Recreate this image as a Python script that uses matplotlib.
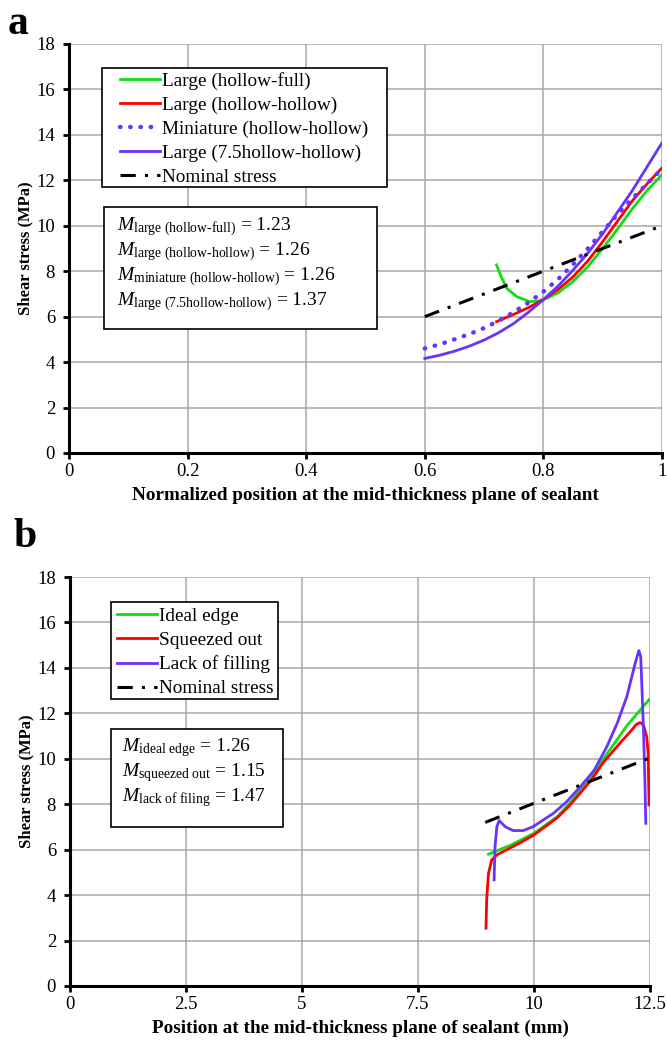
import numpy as np
import matplotlib.pyplot as plt
from matplotlib.patches import Rectangle

plt.rcParams['font.family'] = ['Liberation Serif', 'DejaVu Serif']
plt.rcParams['mathtext.fontset'] = 'custom'
plt.rcParams['mathtext.rm'] = 'Liberation Serif'
plt.rcParams['mathtext.it'] = 'Liberation Serif:italic'
plt.rcParams['mathtext.bf'] = 'Liberation Serif:bold'

GREEN = '#11dd11'
RED = '#ff0000'
PURPLE = '#6633ff'

# ---- panel a data (normalized position, MPa) ----
a_green_x = [0.721, 0.728, 0.738, 0.755, 0.777, 0.791, 0.80, 0.825, 0.85, 0.875, 0.90,
             0.925, 0.95, 0.975, 1.0]
a_green_y = [8.28, 7.8, 7.25, 6.88, 6.66, 6.69, 6.75, 7.05, 7.55, 8.2, 9.0,
             9.85, 10.75, 11.55, 12.25]

a_red_x = [0.721, 0.75, 0.775, 0.80, 0.825, 0.85, 0.875, 0.90, 0.925, 0.95, 0.975, 1.0]
a_red_y = [5.78, 6.1, 6.4, 6.75, 7.2, 7.75, 8.45, 9.3, 10.2, 11.1, 11.85, 12.55]

a_mini_x = [0.60, 0.625, 0.65, 0.675, 0.70, 0.725, 0.75, 0.775, 0.80, 0.825, 0.85,
            0.875, 0.90, 0.925, 0.95, 0.975, 1.0]
a_mini_y = [4.6, 4.78, 5.0, 5.23, 5.5, 5.82, 6.2, 6.62, 7.1, 7.65, 8.3,
            9.0, 9.75, 10.5, 11.2, 11.85, 12.5]

a_blue_x = [0.60, 0.625, 0.65, 0.675, 0.70, 0.725, 0.75, 0.775, 0.80, 0.825, 0.85,
            0.875, 0.90, 0.925, 0.95, 0.975, 1.0]
a_blue_y = [4.16, 4.3, 4.48, 4.7, 4.97, 5.3, 5.7, 6.2, 6.75, 7.35, 8.05,
            8.8, 9.65, 10.6, 11.55, 12.6, 13.65]

a_nom_x = [0.6, 1.0]
a_nom_y = [6.0, 10.0]

a_labels = ['Large (hollow-full)', 'Large (hollow-hollow)', 'Miniature (hollow-hollow)',
            'Large (7.5hollow-hollow)', 'Nominal stress']
a_mfactors = [('large (hollow-full)', '1.23'), ('large (hollow-hollow)', '1.26'),
              ('miniature (hollow-hollow)', '1.26'), ('large (7.5hollow-hollow)', '1.37')]

# ---- panel b data (mm, MPa) ----
b_green_x = [9.02, 9.5, 10.0, 10.5, 10.75, 11.0, 11.25, 11.5, 12.0, 12.25, 12.48]
b_green_y = [5.8, 6.2, 6.72, 7.45, 8.0, 8.6, 9.25, 10.0, 11.45, 12.05, 12.6]

b_red_x = [8.966, 8.98, 9.02, 9.09, 9.2, 9.41, 9.7, 10.0, 10.5, 10.75, 11.0, 11.25, 11.5,
           11.85, 12.1, 12.2, 12.28, 12.33, 12.37, 12.43, 12.46, 12.47, 12.48]
b_red_y = [2.54, 3.79, 4.96, 5.55, 5.77, 5.99, 6.3, 6.65, 7.4, 7.9, 8.5, 9.1, 9.85,
           10.68, 11.25, 11.5, 11.59, 11.55, 11.41, 10.97, 10.24, 9.07, 7.97]

b_blue_x = [9.14, 9.16, 9.2, 9.25, 9.38, 9.55, 9.77, 9.98, 10.42, 10.7, 11.0, 11.3, 11.57,
            11.8, 12.0, 12.18, 12.26, 12.3, 12.32, 12.36, 12.39, 12.41]
b_blue_y = [4.67, 6.13, 7.01, 7.28, 7.01, 6.84, 6.84, 7.01, 7.6, 8.1, 8.77, 9.5, 10.53,
            11.6, 12.73, 14.2, 14.76, 14.5, 13.47, 11.27, 9.07, 7.16]

b_nom_x = [8.95, 12.45]
b_nom_y = [7.2, 10.0]

b_labels = ['Ideal edge', 'Squeezed out', 'Lack of filling', 'Nominal stress']
b_mfactors = [('ideal edge', '1.26'), ('squeezed out', '1.15'), ('lack of filing', '1.47')]

NOM_STYLE = (0, (5, 3, 1, 3))
MINI_STYLE = (0, (0.1, 2.2))


def style_axes(ax, xmax, xticks, xticklabels, xlabel):
    ax.set_xlim(0, xmax)
    ax.set_ylim(0, 18)
    ax.set_xticks(xticks)
    ax.set_xticklabels(xticklabels)
    ax.set_yticks(np.arange(0, 19, 2))
    ax.grid(True, color='#a8a8a8', lw=1.1)
    ax.set_axisbelow(True)
    for s in ['top', 'right']:
        ax.spines[s].set_visible(False)
    for s in ['left', 'bottom']:
        ax.spines[s].set_linewidth(2.2)
        ax.spines[s].set_color('black')
    ax.tick_params(direction='out', length=4, width=2, labelsize=13.5)
    ax.tick_params(axis='x', pad=3)
    ax.tick_params(axis='y', pad=6)
    ax.set_ylabel('Shear stress (MPa)', fontsize=12, fontweight='bold', labelpad=2)
    ax.set_xlabel(xlabel, fontsize=13.8, fontweight='bold', labelpad=5)


def boxed_legend(ax, anchor, rect):
    leg = ax.legend(loc='upper left', bbox_to_anchor=anchor, fontsize=13.9, frameon=False,
                    borderpad=0, handlelength=2.05, handletextpad=0.15, labelspacing=0.34,
                    borderaxespad=0)
    x0, y0, x1, y1 = rect
    ax.add_patch(Rectangle((x0, y0), x1 - x0, y1 - y0, transform=ax.transAxes,
                           fc='white', ec='black', lw=1.2, zorder=4))
    leg.set_zorder(5)


def m_box(ax, rect, x, ytop, step, items):
    x0, y0, x1, y1 = rect
    ax.add_patch(Rectangle((x0, y0), x1 - x0, y1 - y0, transform=ax.transAxes,
                           fc='white', ec='black', lw=1.2, zorder=4))
    for i, (k, v) in enumerate(items):
        ax.text(x, ytop - i * step, r'$M_{\text{%s}}$ = %s' % (k, v), transform=ax.transAxes,
                fontsize=14, va='center', ha='left', zorder=5)


fig = plt.figure(figsize=(6.67, 10.44), dpi=100)
ax1 = fig.add_axes([0.1034, 0.5661, 0.8891, 0.3918])
ax2 = fig.add_axes([0.1049, 0.0556, 0.8696, 0.3917])

# panel a
ax1.plot(a_green_x, a_green_y, color=GREEN, lw=2, label=a_labels[0])
ax1.plot(a_red_x, a_red_y, color=RED, lw=2, label=a_labels[1])
ax1.plot(a_mini_x, a_mini_y, color=PURPLE, lw=3.2, ls=MINI_STYLE, dash_capstyle='round',
         label=a_labels[2])
ax1.plot(a_blue_x, a_blue_y, color=PURPLE, lw=2, label=a_labels[3])
ax1.plot(a_nom_x, a_nom_y, color='black', lw=2.2, ls=NOM_STYLE, label=a_labels[4])
style_axes(ax1, 1, [0, 0.2, 0.4, 0.6, 0.8, 1.0], ['0', '0.2', '0.4', '0.6', '0.8', '1'],
           'Normalized position at the mid-thickness plane of sealant')
boxed_legend(ax1, (0.086, 0.932), (0.0556, 0.650, 0.536, 0.941))
m_box(ax1, (0.059, 0.303, 0.519, 0.601), 0.081, 0.554, 0.061, a_mfactors)

# panel b
ax2.plot(b_green_x, b_green_y, color=GREEN, lw=2, label=b_labels[0])
ax2.plot(b_red_x, b_red_y, color=RED, lw=2, label=b_labels[1])
ax2.plot(b_blue_x, b_blue_y, color=PURPLE, lw=2, label=b_labels[2])
ax2.plot(b_nom_x, b_nom_y, color='black', lw=2.2, ls=NOM_STYLE, label=b_labels[3])
style_axes(ax2, 12.5, [0, 2.5, 5, 7.5, 10, 12.5], ['0', '2.5', '5', '7.5', '10', '12.5'],
           'Position at the mid-thickness plane of sealant (mm)')
boxed_legend(ax2, (0.081, 0.926), (0.0707, 0.702, 0.3586, 0.939))
m_box(ax2, (0.0707, 0.389, 0.367, 0.628), 0.0897, 0.582, 0.061, b_mfactors)

fig.text(0.012, 0.977, 'a', fontsize=30, fontweight='bold', va='center')
fig.text(0.02, 0.486, 'b', fontsize=30, fontweight='bold', va='center')

fig.savefig('out.png', dpi=100)
